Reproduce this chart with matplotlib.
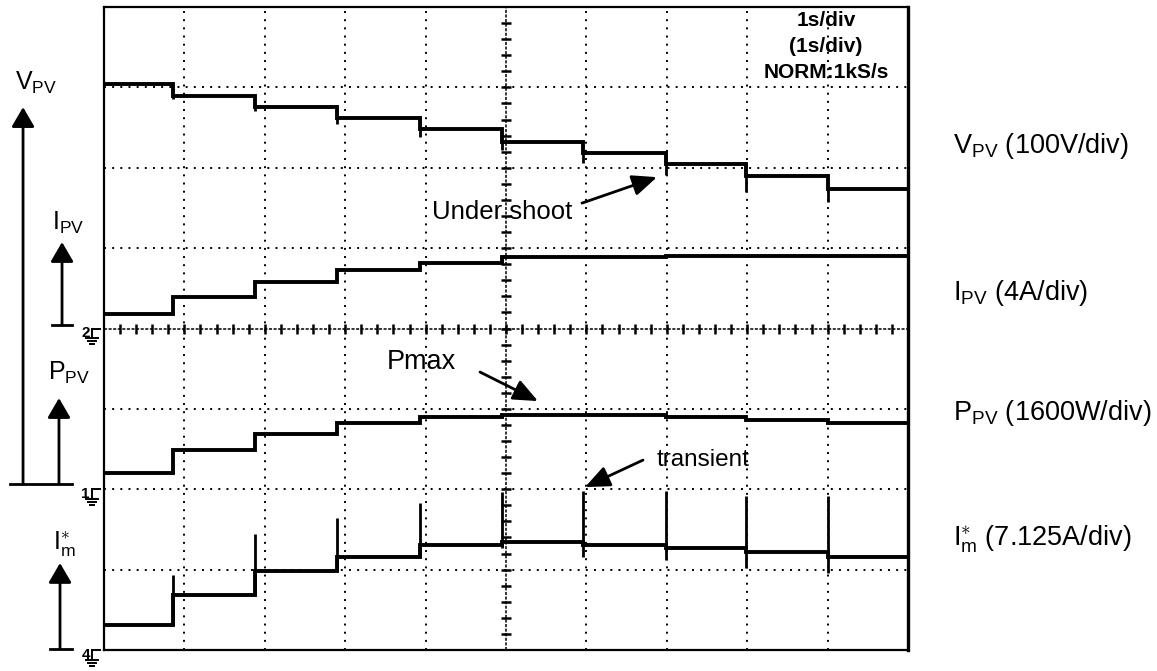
import matplotlib
matplotlib.use("Agg")
import matplotlib.pyplot as plt
from matplotlib.lines import Line2D

plt.rcParams['font.family'] = ['Liberation Sans', 'DejaVu Sans']
plt.rcParams['mathtext.fontset'] = 'custom'
plt.rcParams['mathtext.rm'] = 'Liberation Sans'
plt.rcParams['mathtext.it'] = 'Liberation Sans'

# Time base: 1 s/div over 10 divisions; irradiance steps happen at these times
step_times = [0.86, 1.88, 2.90, 3.93, 4.95, 5.96, 6.99, 7.99, 9.00]
t_edges = [0.0] + step_times + [10.0]

# Trace levels in screen divisions (0 = bottom of the screen)
v_pv = [7.036, 6.89, 6.75, 6.617, 6.48, 6.32, 6.185, 6.045, 5.90, 5.74]
v_pv_undershoot = [6.853, 6.704, 6.542, 6.381, 6.219, 6.057, 5.908, 5.700, 5.576]
i_pv = [4.18, 4.394, 4.58, 4.726, 4.81, 4.89, 4.895, 4.90, 4.90, 4.905]
p_pv = [2.198, 2.488, 2.683, 2.827, 2.894, 2.923, 2.923, 2.894, 2.86, 2.827]
i_m = [0.311, 0.684, 0.986, 1.16, 1.306, 1.347, 1.306, 1.265, 1.223, 1.16]
i_m_peak = [0.933, 1.443, 1.638, 1.825, 1.96, 1.98, 1.98, 1.92, 1.92]
i_m_dip = [0.311, 0.684, 0.986, 1.16, 1.27, 1.16, 1.12, 1.02, 0.96]

# Channel ground references (division level)
ground_names = ['2', '1', '4']
ground_levels = [4.0, 2.0, 0.0]

right_labels = [r'$\mathrm{V}_{\mathrm{PV}}$ (100V/div)',
                r'$\mathrm{I}_{\mathrm{PV}}$ (4A/div)',
                r'$\mathrm{P}_{\mathrm{PV}}$ (1600W/div)',
                r'$\mathrm{I}_{\mathrm{m}}^{\ast}$ (7.125A/div)']
right_label_y = [6.18, 4.353, 2.861, 1.306]

scope_info = ['1s/div', '(1s/div)', 'NORM:1kS/s']

fig = plt.figure(figsize=(11.57, 6.71), dpi=100)
ax = fig.add_axes([104 / 1157, 21 / 671, 804 / 1157, 643 / 671])
ax.set_xlim(0, 10)
ax.set_ylim(0, 8)
ax.set_xticks([])
ax.set_yticks([])
for side, sp in ax.spines.items():
    sp.set_linewidth(1.6)
ax.spines['right'].set_linewidth(2.4)

# Graticule
dot = (0, (1, 3.2))
for gx in range(1, 10):
    if gx != 5:
        ax.axvline(gx, color='k', lw=1.4, ls=dot, zorder=1)
for gy in range(1, 8):
    if gy != 4:
        ax.axhline(gy, color='k', lw=1.4, ls=dot, zorder=1)
ax.axvline(5, color='k', lw=1.1, ls=(0, (2, 1)), zorder=1)
ax.axhline(4, color='k', lw=1.1, ls=(0, (2, 1)), zorder=1)
minor = [k * 0.2 for k in range(1, 50)]
ax.plot([5] * 39, [k * 0.2 for k in range(1, 40)], ls='none', marker='_',
        ms=7, mew=1.8, color='k', zorder=1)
ax.plot(minor, [4] * len(minor), ls='none', marker='|',
        ms=7, mew=1.8, color='k', zorder=1)

# Traces
trace_kw = dict(color='k', lw=2.8, baseline=None, zorder=3)
ax.stairs(v_pv, t_edges, **trace_kw)
ax.vlines(step_times, v_pv[1:], v_pv_undershoot, color='k', lw=2.0, zorder=3)
ax.stairs(i_pv, t_edges, **trace_kw)
ax.stairs(p_pv, t_edges, **trace_kw)
ax.stairs(i_m, t_edges, **trace_kw)
ax.vlines(step_times, i_m_dip, i_m_peak, color='k', lw=2.0, zorder=3)

# Annotations inside the screen
arrow_kw = dict(arrowstyle='-|>,head_length=0.75,head_width=0.32',
                color='k', lw=2.0, mutation_scale=20, shrinkA=0, shrinkB=0)
ax.text(4.08, 5.448, 'Under shoot', fontsize=18.5, ha='left', va='center',
        zorder=4)
ax.annotate('', xy=(6.878, 5.883), xytext=(5.945, 5.56), arrowprops=arrow_kw)
ax.text(3.52, 3.58, 'Pmax', fontsize=19.5, ha='left', va='center', zorder=4)
ax.annotate('', xy=(5.398, 3.097), xytext=(4.677, 3.458), arrowprops=arrow_kw)
ax.text(6.878, 2.363, 'transient', fontsize=17.5, ha='left', va='center',
        zorder=4)
ax.annotate('', xy=(5.983, 2.027), xytext=(6.704, 2.363), arrowprops=arrow_kw)

for k, s in enumerate(scope_info):
    ax.text(8.98, 7.83 - k * 0.32, s, fontsize=15, fontweight='bold',
            ha='center', va='center', zorder=4)

# Signal-direction arrows on the left
big_arrow = dict(arrowstyle='-|>,head_length=0.6,head_width=0.35',
                 color='k', lw=2.0, mutation_scale=20, shrinkA=0, shrinkB=0)


def up_arrow(x, base, tip):
    ax.annotate('', xy=(x, tip), xytext=(x, base), arrowprops=big_arrow,
                annotation_clip=False)


up_arrow(-1.007, 2.065, 6.754)
up_arrow(-0.56, 2.065, 3.134)
up_arrow(-0.522, 4.042, 5.075)
up_arrow(-0.547, 0.012, 1.082)
for x0, x1, y in [(-1.169, -0.398, 2.065), (-0.647, -0.398, 4.042),
                  (-0.672, -0.398, 0.012)]:
    ax.add_line(Line2D([x0, x1], [y, y], color='k', lw=2.0, clip_on=False))

left_labels = [(r'$\mathrm{V}_{\mathrm{PV}}$', -1.107, 6.965),
               (r'$\mathrm{I}_{\mathrm{PV}}$', -0.647, 5.224),
               (r'$\mathrm{P}_{\mathrm{PV}}$', -0.697, 3.358),
               (r'$\mathrm{I}_{\mathrm{m}}^{\ast}$', -0.634, 1.244)]
for s, x, y in left_labels:
    ax.text(x, y, s, fontsize=18, ha='left', va='baseline', clip_on=False)

# Ground reference symbols
px = 1 / 80.4
for name, lvl in zip(ground_names, ground_levels):
    ax.text(-0.28, lvl - 9 * px, name, fontsize=11, fontweight='bold',
            ha='left', va='baseline', clip_on=False)
    xs = -12 * px
    ax.add_line(Line2D([xs, -4 * px], [lvl, lvl], color='k', lw=1.4,
                       clip_on=False))
    ax.add_line(Line2D([xs, xs], [lvl, lvl - 10 * px], color='k', lw=1.4,
                       clip_on=False))
    for w, dy in [(6, 10), (4, 13), (2, 16)]:
        ax.add_line(Line2D([xs - w * px, xs + w * px],
                           [lvl - dy * px, lvl - dy * px], color='k', lw=1.4,
                           clip_on=False))

for s, y in zip(right_labels, right_label_y):
    ax.text(10.56, y, s, fontsize=19.5, ha='left', va='baseline',
            clip_on=False)

fig.savefig('out.png', dpi=100, facecolor='white')
